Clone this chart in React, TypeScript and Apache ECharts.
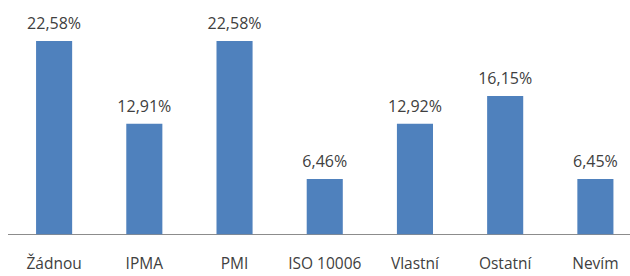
import React, { useEffect, useRef } from "react";
import * as echarts from "echarts";

const categories = ["Žádnou", "IPMA", "PMI", "ISO 10006", "Vlastní", "Ostatní", "Nevím"];
const values = [22.58, 12.91, 22.58, 6.46, 12.92, 16.15, 6.45];

export default function App() {
  const ref = useRef<HTMLDivElement>(null);
  useEffect(() => {
    const chart = echarts.init(ref.current!, null, { renderer: "svg" });
    chart.setOption({
      animation: false,
      grid: { left: 9, width: 631.5, top: 20.3, height: 214, outerBoundsMode: "none", containLabel: false },
      graphic: [
        {
          type: "line",
          shape: { x1: 8, y1: 234.5, x2: 630, y2: 234.5 },
          style: { stroke: "#8c8c8c", lineWidth: 1 },
        },
      ],
      xAxis: {
        type: "category",
        data: categories,
        axisLine: { show: false },
        axisTick: { show: false },
        axisLabel: { color: "#404040", fontSize: 15.5, fontFamily: "Open Sans", margin: 21, interval: 0 },
      },
      yAxis: { type: "value", min: 0, max: 25, show: false, splitLine: { show: false } },
      series: [
        {
          type: "bar",
          data: values,
          barWidth: "40%",
          itemStyle: { color: "#4f81bd" },
          label: {
            show: true,
            position: "top",
            distance: 10,
            color: "#404040",
            fontSize: 16,
            fontFamily: "Open Sans",
            formatter: (p: any) => p.value.toFixed(2).replace(".", ",") + "%",
          },
        },
      ],
    });
    return () => chart.dispose();
  }, []);
  return <div ref={ref} style={{ position: "fixed", left: 0, top: 0, width: 630, height: 276, background: "#fff" }} />;
}
